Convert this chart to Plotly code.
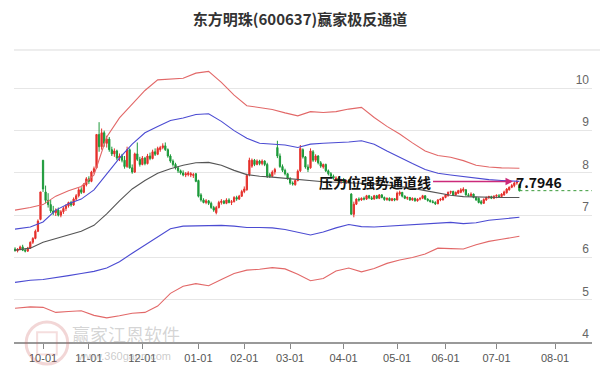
import pandas as pd
import plotly.graph_objects as go

# ---------------- data ----------------
title_text = "东方明珠(600637)赢家极反通道"
start_date = "2024-09-12"
holidays = ["2024-09-16", "2024-09-17", "2024-10-01", "2024-10-02", "2024-10-03",
            "2024-10-04", "2024-10-07", "2025-01-01", "2025-01-28", "2025-01-29",
            "2025-01-30", "2025-01-31", "2025-02-03", "2025-02-04", "2025-04-04",
            "2025-05-01", "2025-05-02", "2025-05-05", "2025-06-02"]
month_ticks = ["2024-10-01", "2024-11-01", "2024-12-01", "2025-01-01", "2025-02-01",
               "2025-03-01", "2025-04-01", "2025-05-01", "2025-06-01", "2025-07-01",
               "2025-08-01"]
y_ticks = [4, 5, 6, 7, 8, 9, 10]

opens = [6.20, 6.16, 6.20, 6.25, 6.17, 6.15, 6.22, 6.36, 6.45, 6.62,
         6.90, 8.30, 7.55, 7.35, 7.25, 7.10, 7.06, 7.12, 7.00, 7.08,
         7.16, 7.22, 7.30, 7.24, 7.38, 7.46, 7.60, 7.54, 7.72, 7.86,
         7.80, 8.02, 8.12, 8.91, 8.62, 8.95, 8.70, 8.80, 8.55, 8.45,
         8.52, 8.35, 8.40, 8.30, 8.15, 8.55, 8.12, 8.02, 8.45, 8.32,
         8.20, 8.35, 8.22, 8.40, 8.34, 8.50, 8.44, 8.55, 8.60, 8.64,
         8.55, 8.40, 8.28, 8.20, 8.12, 8.05, 8.00, 7.95, 7.96, 7.95,
         7.94, 7.98, 7.82, 7.48, 7.36, 7.30, 7.34, 7.28, 7.18, 7.06,
         7.18, 7.30, 7.33, 7.28, 7.36, 7.30, 7.32, 7.42, 7.38, 7.45,
         7.56, 7.60, 7.96, 8.16, 8.30, 8.20, 8.28, 8.22, 8.28, 8.20,
         7.96, 7.92, 8.02, 8.60, 8.40, 8.15, 8.06, 7.98, 7.86, 7.76,
         7.72, 7.82, 8.05, 8.55, 8.38, 8.14, 8.12, 8.50, 8.30, 8.40,
         8.24, 8.14, 8.20, 8.05, 7.98, 7.92, 7.82, 7.88, 7.80, 7.84,
         7.78, 7.82, 7.50, 7.02, 7.26, 7.38, 7.36, 7.40, 7.38, 7.46,
         7.41, 7.38, 7.46, 7.40, 7.48, 7.42, 7.37, 7.40, 7.35, 7.39,
         7.36, 7.50, 7.54, 7.45, 7.40, 7.42, 7.36, 7.40, 7.34, 7.38,
         7.40, 7.46, 7.38, 7.35, 7.32, 7.30, 7.27, 7.36, 7.36, 7.42,
         7.46, 7.54, 7.56, 7.48, 7.52, 7.54, 7.58, 7.60, 7.48, 7.46,
         7.50, 7.42, 7.40, 7.32, 7.28, 7.36, 7.42, 7.44, 7.40, 7.45,
         7.46, 7.44, 7.48, 7.53, 7.60, 7.66, 7.70, 7.76, 7.72]
highs = [6.24, 6.22, 6.28, 6.30, 6.22, 6.25, 6.38, 6.48, 6.66, 6.90,
         7.55, 8.30, 7.70, 7.52, 7.36, 7.22, 7.16, 7.18, 7.12, 7.20,
         7.26, 7.32, 7.34, 7.42, 7.50, 7.64, 7.66, 7.76, 7.90, 7.92,
         8.05, 8.15, 8.91, 9.20, 9.05, 9.00, 8.88, 8.85, 8.62, 8.58,
         8.55, 8.46, 8.45, 8.40, 8.62, 8.58, 8.20, 8.48, 8.72, 8.38,
         8.40, 8.38, 8.45, 8.48, 8.55, 8.58, 8.62, 8.64, 8.70, 8.72,
         8.58, 8.44, 8.32, 8.24, 8.15, 8.08, 8.06, 8.02, 8.04, 8.02,
         8.00, 8.00, 7.84, 7.52, 7.40, 7.38, 7.36, 7.32, 7.22, 7.22,
         7.34, 7.38, 7.36, 7.40, 7.40, 7.36, 7.45, 7.46, 7.48, 7.60,
         7.68, 7.98, 8.36, 8.34, 8.33, 8.32, 8.31, 8.32, 8.30, 8.24,
         8.00, 8.06, 8.12, 8.76, 8.46, 8.20, 8.10, 8.00, 7.90, 7.80,
         7.84, 8.08, 8.66, 8.58, 8.40, 8.20, 8.58, 8.54, 8.44, 8.42,
         8.28, 8.22, 8.22, 8.08, 8.02, 7.96, 7.92, 7.90, 7.86, 7.88,
         7.84, 7.85, 7.52, 7.32, 7.40, 7.42, 7.42, 7.44, 7.48, 7.48,
         7.45, 7.48, 7.48, 7.50, 7.50, 7.44, 7.42, 7.42, 7.41, 7.40,
         7.56, 7.58, 7.55, 7.47, 7.44, 7.43, 7.42, 7.41, 7.40, 7.42,
         7.48, 7.47, 7.40, 7.37, 7.36, 7.33, 7.38, 7.40, 7.44, 7.50,
         7.56, 7.58, 7.58, 7.56, 7.60, 7.64, 7.66, 7.62, 7.52, 7.54,
         7.51, 7.44, 7.42, 7.36, 7.40, 7.44, 7.46, 7.46, 7.47, 7.49,
         7.50, 7.52, 7.58, 7.64, 7.68, 7.74, 7.80, 7.84, 7.74]
lows = [6.14, 6.12, 6.17, 6.15, 6.12, 6.13, 6.20, 6.32, 6.43, 6.60,
        6.88, 7.55, 7.28, 7.18, 7.05, 7.00, 6.98, 6.97, 6.95, 7.03,
        7.10, 7.18, 7.20, 7.22, 7.34, 7.42, 7.50, 7.52, 7.68, 7.74,
        7.78, 7.98, 8.10, 8.50, 8.55, 8.62, 8.60, 8.50, 8.40, 8.38,
        8.30, 8.28, 8.25, 8.10, 8.12, 8.10, 7.98, 8.00, 8.28, 8.15,
        8.18, 8.18, 8.20, 8.30, 8.32, 8.40, 8.42, 8.50, 8.56, 8.52,
        8.36, 8.24, 8.15, 8.08, 8.00, 7.96, 7.92, 7.90, 7.92, 7.90,
        7.88, 7.78, 7.42, 7.32, 7.28, 7.26, 7.24, 7.15, 7.08, 7.02,
        7.16, 7.25, 7.26, 7.26, 7.28, 7.24, 7.30, 7.34, 7.36, 7.43,
        7.52, 7.58, 7.92, 8.12, 8.16, 8.18, 8.18, 8.18, 8.16, 7.88,
        7.88, 7.90, 7.96, 8.35, 8.12, 8.02, 7.94, 7.84, 7.72, 7.70,
        7.70, 7.80, 8.02, 8.34, 8.10, 8.02, 8.10, 8.26, 8.26, 8.20,
        8.12, 8.10, 8.02, 7.94, 7.88, 7.84, 7.80, 7.76, 7.74, 7.76,
        7.74, 7.76, 7.02, 6.95, 7.24, 7.32, 7.34, 7.35, 7.36, 7.38,
        7.36, 7.37, 7.38, 7.38, 7.40, 7.34, 7.34, 7.33, 7.33, 7.33,
        7.35, 7.46, 7.42, 7.38, 7.36, 7.34, 7.34, 7.32, 7.32, 7.35,
        7.38, 7.36, 7.32, 7.30, 7.28, 7.24, 7.26, 7.33, 7.35, 7.40,
        7.44, 7.50, 7.46, 7.46, 7.50, 7.52, 7.54, 7.46, 7.44, 7.44,
        7.40, 7.34, 7.28, 7.25, 7.27, 7.34, 7.38, 7.38, 7.38, 7.40,
        7.42, 7.43, 7.46, 7.51, 7.58, 7.64, 7.66, 7.72, 7.56]
closes = [6.16, 6.20, 6.25, 6.17, 6.15, 6.22, 6.36, 6.45, 6.62, 6.86,
          7.55, 7.62, 7.35, 7.25, 7.10, 7.06, 7.12, 7.00, 7.08, 7.16,
          7.22, 7.30, 7.24, 7.38, 7.46, 7.60, 7.54, 7.72, 7.86, 7.80,
          8.02, 8.10, 8.91, 8.62, 8.95, 8.70, 8.80, 8.55, 8.45, 8.52,
          8.35, 8.40, 8.30, 8.15, 8.55, 8.12, 8.02, 8.45, 8.32, 8.20,
          8.35, 8.22, 8.40, 8.34, 8.50, 8.44, 8.58, 8.60, 8.64, 8.55,
          8.40, 8.28, 8.20, 8.12, 8.05, 8.00, 7.95, 7.98, 8.00, 7.98,
          7.96, 7.80, 7.45, 7.36, 7.30, 7.34, 7.28, 7.18, 7.12, 7.18,
          7.30, 7.33, 7.28, 7.36, 7.30, 7.32, 7.42, 7.38, 7.45, 7.56,
          7.62, 7.94, 8.30, 8.30, 8.20, 8.28, 8.22, 8.28, 8.20, 7.92,
          7.92, 8.02, 8.08, 8.40, 8.15, 8.06, 7.98, 7.86, 7.76, 7.74,
          7.82, 8.04, 8.58, 8.38, 8.14, 8.08, 8.52, 8.30, 8.40, 8.24,
          8.16, 8.20, 8.05, 7.98, 7.92, 7.88, 7.88, 7.80, 7.84, 7.78,
          7.82, 7.79, 7.02, 7.26, 7.38, 7.36, 7.40, 7.38, 7.46, 7.41,
          7.38, 7.46, 7.40, 7.48, 7.42, 7.37, 7.40, 7.35, 7.39, 7.36,
          7.52, 7.54, 7.45, 7.40, 7.42, 7.36, 7.40, 7.34, 7.38, 7.40,
          7.46, 7.38, 7.35, 7.32, 7.30, 7.27, 7.36, 7.38, 7.42, 7.48,
          7.54, 7.56, 7.48, 7.54, 7.58, 7.60, 7.62, 7.48, 7.46, 7.50,
          7.42, 7.36, 7.30, 7.28, 7.37, 7.42, 7.44, 7.40, 7.45, 7.47,
          7.44, 7.50, 7.55, 7.62, 7.66, 7.70, 7.76, 7.79, 7.58]

# channel lines, sampled on these trading-day positions
line_day = [0, 6, 11, 16, 21, 26, 31, 36, 41, 46, 51, 56, 61, 66, 71, 76, 81, 86, 91, 96,
            101, 106, 111, 116, 121, 126, 131, 136, 141, 146, 151, 156, 161, 166, 171, 176,
            181, 186, 191, 198]
red_upper = [7.12, 7.18, 7.25, 7.45, 7.58, 7.68, 7.95, 8.85, 9.30, 9.63, 9.95, 10.20,
             10.22, 10.24, 10.36, 10.40, 10.14, 9.84, 9.59, 9.55, 9.50, 9.42, 9.35, 9.45,
             9.43, 9.45, 9.51, 9.55, 9.31, 9.10, 8.92, 8.71, 8.52, 8.41, 8.37, 8.29, 8.18,
             8.14, 8.12, 8.11]
blue_upper = [6.67, 6.72, 6.84, 7.12, 7.27, 7.38, 7.60, 7.97, 8.35, 8.68, 8.95, 9.10,
              9.24, 9.30, 9.38, 9.40, 9.22, 9.00, 8.82, 8.70, 8.68, 8.66, 8.60, 8.68,
              8.70, 8.71, 8.73, 8.76, 8.68, 8.52, 8.36, 8.22, 8.08, 7.99, 7.95, 7.91,
              7.87, 7.84, 7.82, 7.80]
middle = [6.17, 6.22, 6.36, 6.45, 6.53, 6.62, 6.76, 7.03, 7.34, 7.62, 7.82, 7.99,
          8.10, 8.18, 8.24, 8.25, 8.18, 8.06, 7.96, 7.92, 7.90, 7.87, 7.85, 7.82,
          7.79, 7.78, 7.77, 7.76, 7.74, 7.71, 7.68, 7.64, 7.58, 7.52, 7.47, 7.44,
          7.43, 7.42, 7.42, 7.42]
blue_lower = [5.41, 5.46, 5.48, 5.52, 5.57, 5.62, 5.67, 5.75, 5.90, 6.10, 6.30, 6.50,
              6.68, 6.74, 6.75, 6.76, 6.76, 6.74, 6.71, 6.71, 6.70, 6.66, 6.60, 6.53,
              6.60, 6.70, 6.78, 6.73, 6.72, 6.74, 6.76, 6.78, 6.80, 6.82, 6.83, 6.80,
              6.82, 6.88, 6.91, 6.95]
red_lower = [4.80, 4.83, 4.82, 4.70, 4.72, 4.74, 4.63, 4.57, 4.62, 4.68, 4.70, 4.85,
             5.15, 5.32, 5.38, 5.33, 5.48, 5.62, 5.70, 5.72, 5.76, 5.73, 5.60, 5.45,
             5.50, 5.68, 5.75, 5.66, 5.74, 5.86, 5.94, 6.00, 6.08, 6.22, 6.21, 6.20,
             6.30, 6.38, 6.43, 6.50]

pressure_label = "压力位强势通道线"
pressure_value = 7.7946

# ---------------- derived ----------------
days = pd.bdate_range(start_date, "2025-08-29", freq="C", holidays=holidays)
pos = list(range(len(closes)))
tick_pos = [int(days.searchsorted(pd.Timestamp(m))) for m in month_ticks]
tick_text = [m[5:] for m in month_ticks]
x_range = [-0.4, 226.5]
last = pos[-1]

RED = "#e5302b"
GREEN = "#1d9a3a"

fig = go.Figure()

for vals, col in [(red_upper, "#e26868"), (blue_upper, "#4b4bd2"), (middle, "#555555"),
                  (blue_lower, "#4b4bd2"), (red_lower, "#e26868")]:
    fig.add_trace(go.Scatter(x=line_day, y=vals, mode="lines",
                             line=dict(color=col, width=1.1), hoverinfo="skip"))

fig.add_trace(go.Candlestick(
    x=pos, open=opens, high=highs, low=lows, close=closes,
    increasing=dict(line=dict(color=RED, width=1), fillcolor=RED),
    decreasing=dict(line=dict(color=GREEN, width=1), fillcolor=GREEN),
    whiskerwidth=0))

fig.add_trace(go.Scatter(x=[last, x_range[1]], y=[closes[-1], closes[-1]], mode="lines",
                         line=dict(color="#3a9a3a", width=1, dash="dot"), hoverinfo="skip"))

fig.update_layout(
    width=600, height=371,
    margin=dict(l=14, r=8, t=63, b=29),
    paper_bgcolor="white", plot_bgcolor="white",
    showlegend=False,
    font=dict(family="Liberation Sans, Arial, sans-serif"),
    title=dict(text="<b>" + title_text + "</b>", x=0.5, xanchor="center",
               y=1 - 20 / 371, yanchor="middle", yref="container",
               font=dict(family="Noto Sans CJK SC", size=15, color="#333333")),
    xaxis=dict(range=x_range, tickvals=tick_pos, ticktext=tick_text,
               ticks="outside", ticklen=5, tickcolor="#888888", tickwidth=1,
               showline=True, linecolor="#999999", linewidth=1.5,
               showgrid=False, zeroline=False,
               tickfont=dict(size=11, color="#555555"),
               rangeslider=dict(visible=False)),
    yaxis=dict(range=[4, 10.6], tickvals=y_ticks, side="right",
               ticklabelposition="inside top", ticks="",
               showgrid=True, gridcolor="#e6e6e6", gridwidth=1, zeroline=False,
               tickfont=dict(size=12, color="#666666")),
)

# separator under the title
fig.add_shape(type="line", xref="paper", yref="paper", x0=0.0, x1=1.014,
              y0=1.0466, y1=1.0466, line=dict(color="#dddddd", width=1))

# watermark
fig.add_shape(type="circle", xref="paper", yref="paper", x0=0.021, x1=0.093,
              y0=-0.079, y1=0.072, line=dict(color="rgba(205,90,90,0.25)", width=3))
fig.add_shape(type="rect", xref="paper", yref="paper", x0=0.040, x1=0.074,
              y0=-0.045, y1=0.035, line=dict(color="rgba(205,90,90,0.2)", width=2))
fig.add_annotation(text="赢家江恩软件", xref="paper", yref="paper", x=0.194, y=0.028,
                   xanchor="center", yanchor="middle",
                   showarrow=False, font=dict(family="Noto Sans CJK SC", size=18,
                                              color="rgba(160,160,160,0.45)"))
fig.add_annotation(text="www.360gann.com", xref="paper", yref="paper", x=0.19, y=-0.05,
                   xanchor="center", yanchor="middle",
                   showarrow=False, font=dict(size=11, color="rgba(160,160,160,0.55)"))

# pressure line annotation
tip_x = last - 2.5
fig.add_annotation(x=tip_x, y=pressure_value, xref="x", yref="y",
                   text="<b>" + pressure_label + "</b>", showarrow=True,
                   ax=-80, ay=0, xanchor="right", arrowhead=2, arrowsize=1,
                   arrowwidth=1.5, arrowcolor="#cc2a7a", standoff=0,
                   font=dict(family="Noto Sans CJK SC", size=14, color="#111111"))
fig.add_annotation(x=tip_x, y=pressure_value, xref="x", yref="y",
                   text="<b>%.4f</b>" % pressure_value, showarrow=False,
                   xanchor="left", xshift=1,
                   font=dict(family="Noto Sans CJK SC", size=14, color="#111111"))

fig.write_html("out.html")
